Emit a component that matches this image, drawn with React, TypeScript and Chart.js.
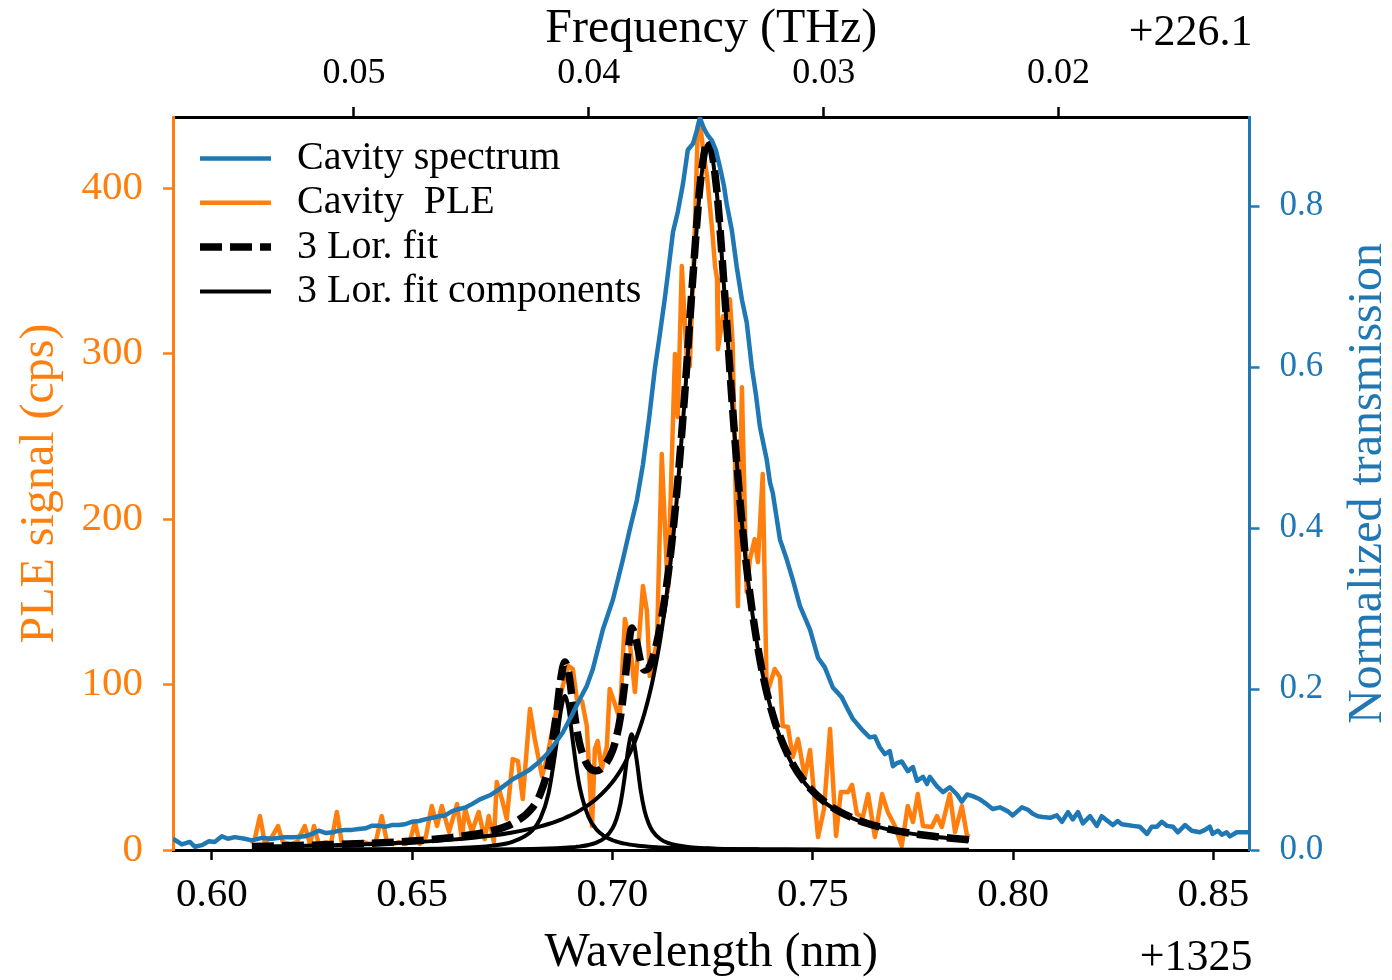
import React, { useEffect, useRef } from "react";
import { Chart, registerables } from "chart.js";

Chart.register(...registerables);

// ---------------- data ----------------
const spectrumWavelength = [
  0.5903, 0.5925, 0.5945, 0.5958, 0.5975, 0.5993, 0.6007, 0.6025, 0.604, 0.6057, 0.6082, 0.61, 0.6125, 0.615,
  0.6182, 0.6207, 0.6232, 0.625, 0.6267, 0.6285, 0.6302, 0.6317, 0.6334, 0.6349, 0.6367, 0.6384, 0.6399, 0.6417,
  0.6434, 0.6449, 0.6467, 0.6482, 0.6499, 0.6517, 0.6532, 0.6549, 0.6567, 0.6582, 0.6599, 0.6617, 0.6634, 0.6649,
  0.6669, 0.6694, 0.6719, 0.6751, 0.6774, 0.6794, 0.6816, 0.6836, 0.6856, 0.6876, 0.6899, 0.6919, 0.6936, 0.6951,
  0.6976, 0.7001, 0.7026, 0.7043, 0.7061, 0.7076, 0.7091, 0.7106, 0.7118, 0.7131, 0.7141, 0.7151, 0.7163, 0.7176,
  0.7188, 0.7201, 0.7211, 0.7218, 0.7228, 0.7238, 0.7248, 0.7258, 0.7268, 0.7278, 0.7285, 0.7298, 0.731, 0.7323,
  0.7335, 0.7348, 0.7358, 0.7368, 0.7385, 0.7393, 0.74, 0.7418, 0.7435, 0.745, 0.7468, 0.748, 0.7493, 0.7513,
  0.753, 0.755, 0.7572, 0.7585, 0.76, 0.7622, 0.7642, 0.7655, 0.7667, 0.768, 0.7692, 0.77, 0.771, 0.7722, 0.7737,
  0.775, 0.776, 0.7775, 0.7785, 0.7792, 0.781, 0.7825, 0.7842, 0.786, 0.7872, 0.7885, 0.7899, 0.7917, 0.7934,
  0.7949, 0.7967, 0.7987, 0.7999, 0.8022, 0.8037, 0.8049, 0.8062, 0.8074, 0.8092, 0.8109, 0.8122, 0.8137, 0.8149,
  0.8162, 0.8174, 0.8192, 0.8209, 0.8221, 0.8236, 0.8249, 0.8261, 0.8271, 0.8284, 0.8299, 0.8316, 0.8334, 0.8346,
  0.8359, 0.8371, 0.8384, 0.8399, 0.8411, 0.8429, 0.8446, 0.8466, 0.8479, 0.8491, 0.8498, 0.8511, 0.8521, 0.8533,
  0.8541, 0.8558, 0.8573, 0.859,
];
const spectrumTransmission = [
  0.014, 0.007, 0.01, 0.004, 0.006, 0.011, 0.01, 0.017, 0.014, 0.016, 0.014, 0.012, 0.015, 0.014,
  0.016, 0.016, 0.017, 0.02, 0.024, 0.021, 0.022, 0.024, 0.025, 0.025, 0.026, 0.027, 0.03, 0.03,
  0.029, 0.031, 0.031, 0.032, 0.035, 0.036, 0.038, 0.04, 0.042, 0.043, 0.048, 0.051, 0.053, 0.057,
  0.063, 0.068, 0.076, 0.088, 0.094, 0.1, 0.109, 0.119, 0.132, 0.146, 0.168, 0.188, 0.204, 0.225,
  0.274, 0.311, 0.361, 0.398, 0.435, 0.479, 0.535, 0.599, 0.64, 0.687, 0.727, 0.768, 0.793, 0.828,
  0.87, 0.878, 0.895, 0.91, 0.897, 0.888, 0.882, 0.87, 0.849, 0.826, 0.803, 0.77, 0.725, 0.684,
  0.656, 0.599, 0.566, 0.526, 0.485, 0.457, 0.444, 0.386, 0.361, 0.336, 0.303, 0.289, 0.274, 0.239,
  0.227, 0.202, 0.19, 0.177, 0.163, 0.15, 0.14, 0.141, 0.128, 0.119, 0.123, 0.104, 0.108, 0.11, 0.098,
  0.103, 0.086, 0.091, 0.082, 0.091, 0.079, 0.072, 0.078, 0.069, 0.06, 0.069, 0.067, 0.063, 0.057,
  0.051, 0.053, 0.048, 0.043, 0.053, 0.05, 0.045, 0.042, 0.041, 0.04, 0.043, 0.035, 0.047, 0.038,
  0.047, 0.033, 0.042, 0.03, 0.042, 0.036, 0.031, 0.036, 0.032, 0.031, 0.03, 0.029, 0.02, 0.029,
  0.029, 0.035, 0.03, 0.029, 0.022, 0.031, 0.024, 0.022, 0.025, 0.029, 0.02, 0.024, 0.019, 0.022,
  0.017, 0.022, 0.022, 0.022,
];

const pleWavelength = [
  0.6095, 0.6107, 0.612, 0.6132, 0.615, 0.6165, 0.6177, 0.6195, 0.6212, 0.6232, 0.6245, 0.6255, 0.6267, 0.6285,
  0.6297, 0.6312, 0.6324, 0.6339, 0.6354, 0.6367, 0.6379, 0.6394, 0.6409, 0.6424, 0.6437, 0.6452, 0.6467, 0.6482,
  0.6494, 0.6507, 0.6519, 0.6534, 0.6549, 0.6562, 0.6574, 0.6592, 0.6612, 0.6624, 0.6632, 0.6649, 0.6666, 0.6681,
  0.6691, 0.6704, 0.6711, 0.6724, 0.6736, 0.6751, 0.6764, 0.6776, 0.6794, 0.6806, 0.6824, 0.6836, 0.6849, 0.6861,
  0.6876, 0.6889, 0.6901, 0.6911, 0.6924, 0.6936, 0.6949, 0.6956, 0.6963, 0.6973, 0.6986, 0.6993, 0.7006, 0.7018,
  0.7031, 0.7043, 0.7056, 0.7076, 0.7086, 0.7093, 0.7111, 0.7123, 0.7138, 0.7156, 0.7163, 0.7173, 0.7186, 0.7193,
  0.7206, 0.7213, 0.7218, 0.7226, 0.7236, 0.7248, 0.7256, 0.7261, 0.7263, 0.7276, 0.7283, 0.7293, 0.73, 0.7313,
  0.7323, 0.7335, 0.7343, 0.7355, 0.7363, 0.7375, 0.7385, 0.7405, 0.7418, 0.7425, 0.7438, 0.745, 0.7463, 0.748,
  0.7493, 0.7513, 0.7528, 0.7543, 0.7558, 0.757, 0.7588, 0.7598, 0.761, 0.7625, 0.7638, 0.7655, 0.7673, 0.7687,
  0.7705, 0.7722, 0.7737, 0.775, 0.7762, 0.7775, 0.7797, 0.781, 0.7822, 0.7842, 0.7855, 0.7872, 0.7885, 0.7892,
];
const pleSignal = [
  4.8, 6.6, 20.5, 4.8, 7.9, 14.5, 4.8, 3.6, 4.8, 14.5, 3.6, 14.5, 3.6, 4.8,
  3.6, 23.0, 4.8, 3.6, 4.8, 3.6, 4.8, 3.6, 4.8, 20.5, 4.8, 3.6, 4.8, 3.6,
  4.8, 16.9, 3.6, 7.9, 26.6, 14.5, 26.6, 10.9, 27.8, 6.6, 24.8, 10.9, 23.0, 6.6,
  20.5, 4.8, 41.1, 30.8, 18.7, 55.0, 53.8, 30.8, 85.2, 67.1, 44.7, 55.0, 71.3, 85.2,
  99.1, 111.2, 109.4, 91.2, 90.0, 74.9, 14.5, 61.0, 65.9, 48.9, 62.8, 97.3, 88.2, 79.2,
  139.6, 125.7, 95.5, 159.5, 144.4, 105.1, 125.7, 239.3, 155.9, 299.7, 261.6, 352.9, 294.2, 292.4,
  378.2, 437.4, 441.0, 423.5, 407.2, 377.0, 352.9, 345.0, 302.7, 322.6, 320.8, 332.9, 305.7, 147.4,
  279.7, 155.9, 175.8, 187.9, 174.0, 227.2, 94.3, 109.4, 104.5, 74.9, 74.3, 56.2, 67.1, 44.1,
  60.4, 7.9, 24.8, 73.1, 8.5, 35.0, 35.0, 39.3, 21.8, 19.9, 33.8, 7.9, 33.8, 23.0,
  14.5, 2.4, 26.6, 16.9, 33.8, 14.5, 13.9, 20.5, 13.9, 33.8, 10.9, 26.6, 8.5, 7.9,
];

const fitWavelength = [
  0.61, 0.62, 0.63, 0.64, 0.65, 0.66, 0.67, 0.675, 0.68, 0.682, 0.684, 0.686, 0.687, 0.6881, 0.689, 0.69, 0.691,
  0.692, 0.694, 0.696, 0.698, 0.7, 0.701, 0.702, 0.703, 0.704, 0.7048, 0.706, 0.707, 0.708, 0.709, 0.71, 0.712,
  0.714, 0.716, 0.718, 0.72, 0.722, 0.7239, 0.726, 0.728, 0.73, 0.732, 0.734, 0.737, 0.74, 0.744, 0.748, 0.753,
  0.76, 0.768, 0.778, 0.789,
];
const fitTotal = [
  2.18, 2.63, 3.26, 4.13, 5.44, 7.57, 11.71, 15.95, 25.55, 34.1, 50.4, 82.12, 102.0, 113.65, 107.6, 90.72, 74.2,
  62.28, 50.37, 47.84, 51.0, 60.08, 68.24, 80.68, 99.46, 122.68, 134.13, 125.85, 114.03, 108.83, 110.0, 115.54, 136.32,
  168.93, 214.76, 274.65, 344.04, 405.1, 428.69, 399.53, 335.84, 266.09, 206.36, 160.35, 112.53, 81.8, 56.42, 40.94, 28.99,
  19.34, 13.18, 8.88, 6.18,
];
const fitComponent1 = [
  0.15, 0.19, 0.26, 0.39, 0.61, 1.12, 2.65, 4.93, 11.88, 19.09, 33.83, 63.74, 82.6, 93.0, 85.8, 67.6, 49.6,
  36.0, 20.12, 12.41, 8.3, 5.91, 5.08, 4.41, 3.86, 3.41, 3.1, 2.71, 2.44, 2.2, 2.0, 1.83, 1.54,
  1.31, 1.13, 0.99, 0.87, 0.77, 0.69, 0.62, 0.56, 0.51, 0.46, 0.42, 0.37, 0.33, 0.29, 0.25, 0.21,
  0.17, 0.14, 0.11, 0.09,
];
const fitComponent2 = [
  0.04, 0.05, 0.07, 0.09, 0.12, 0.18, 0.3, 0.42, 0.6, 0.71, 0.85, 1.03, 1.15, 1.3, 1.45, 1.65, 1.89,
  2.19, 3.04, 4.48, 7.19, 13.07, 18.77, 28.2, 43.4, 62.4, 70.0, 55.0, 36.6, 23.8, 16.15, 11.45, 6.48,
  4.12, 2.83, 2.06, 1.57, 1.23, 1.0, 0.81, 0.68, 0.58, 0.5, 0.43, 0.36, 0.3, 0.24, 0.2, 0.16,
  0.12, 0.09, 0.07, 0.05,
];
const fitComponent3 = [
  1.99, 2.39, 2.93, 3.66, 4.7, 6.27, 8.76, 10.6, 13.07, 14.3, 15.72, 17.35, 18.26, 19.35, 20.31, 21.47, 22.72,
  24.09, 27.21, 30.95, 35.51, 41.1, 44.39, 48.07, 52.2, 56.87, 61.03, 68.14, 74.99, 82.83, 91.85, 102.26, 128.3,
  163.5, 210.8, 271.6, 341.6, 403.1, 427.0, 398.1, 334.6, 265.0, 205.4, 159.5, 111.8, 81.17, 55.89, 40.49, 28.62,
  19.05, 12.95, 8.7, 6.04,
];

const wavelengthTicks = [0.6, 0.65, 0.7, 0.75, 0.8, 0.85];
const frequencyTicks = [0.02, 0.03, 0.04, 0.05];
const pleTicks = [0, 100, 200, 300, 400];
const transmissionTicks = [0, 0.2, 0.4, 0.6, 0.8];
const legendLabels = ["Cavity spectrum", "Cavity  PLE", "3 Lor. fit", "3 Lor. fit components"];
const transmissionTitle = "Normalized transmission";

const WAVELENGTH_MIN = 0.5903;
const WAVELENGTH_MAX = 0.859;
const WAVELENGTH_OFFSET = 1325;
const FREQUENCY_OFFSET = 226.1;
const PLE_MAX = 443;
const TRANSMISSION_MAX = 0.911;

// --------------- style ---------------
const FONT = "'Liberation Serif', 'DejaVu Serif', serif";
const BLUE = "#1f77b4";
const ORANGE = "#ff7f0e";
const W = 1392;
const H = 980;

const SPEED_OF_LIGHT = 299792.458; // nm*THz
const toFreqOffset = (lam: number) => SPEED_OF_LIGHT / (WAVELENGTH_OFFSET + lam) - FREQUENCY_OFFSET;

const pts = (xs: number[], ys: number[]) => xs.map((x, i) => ({ x, y: ys[i] }));

const overlayPlugin = {
  id: "overlay",
  afterDraw(chart: any) {
    const ctx = chart.ctx as CanvasRenderingContext2D;
    const area = chart.chartArea;
    ctx.save();
    // offset texts
    ctx.fillStyle = "#000";
    ctx.font = `44px ${FONT}`;
    ctx.textAlign = "right";
    ctx.textBaseline = "alphabetic";
    ctx.fillText("+" + FREQUENCY_OFFSET.toFixed(1), area.right + 3, 45);
    ctx.fillText("+" + WAVELENGTH_OFFSET, area.right + 3, 970);

    // right axis title (reads bottom to top, like matplotlib)
    ctx.save();
    ctx.translate(area.right + 131, (area.top + area.bottom) / 2);
    ctx.rotate(-Math.PI / 2);
    ctx.fillStyle = BLUE;
    ctx.font = `48px ${FONT}`;
    ctx.textAlign = "center";
    ctx.textBaseline = "alphabetic";
    ctx.fillText(transmissionTitle, 0, 0);
    ctx.restore();

    // legend
    const ds = chart.data.datasets;
    const entries = [ds[0], ds[1], ds[2], ds[3]];
    const x0 = area.left + 27;
    const x1 = area.left + 98;
    const tx = area.left + 124;
    entries.forEach((d: any, i: number) => {
      const y = area.top + 41.5 + i * 44.3;
      ctx.beginPath();
      ctx.strokeStyle = d.borderColor;
      ctx.lineWidth = d.borderWidth;
      ctx.setLineDash(d.borderDash || []);
      ctx.lineCap = "butt";
      ctx.moveTo(x0, y);
      ctx.lineTo(x1, y);
      ctx.stroke();
      ctx.setLineDash([]);
      ctx.fillStyle = "#000";
      ctx.font = `40px ${FONT}`;
      ctx.textAlign = "left";
      ctx.textBaseline = "alphabetic";
      ctx.fillText(legendLabels[i], tx, y + 10.5);
    });
    ctx.restore();
  },
};

function axisBase(color: string, borderColor: string, size: number) {
  return {
    grid: {
      display: true,
      drawOnChartArea: false,
      drawTicks: true,
      tickLength: 10,
      tickWidth: 2.5,
      tickColor: borderColor,
    },
    border: { display: true, color: borderColor, width: 3 },
    ticks: {
      color,
      font: { family: FONT, size, lineHeight: 1 },
      autoSkip: false,
      maxRotation: 0,
      minRotation: 0,
    },
  };
}

export default function App() {
  const canvasRef = useRef<HTMLCanvasElement | null>(null);

  useEffect(() => {
    document.body.style.margin = "0";
    const canvas = canvasRef.current;
    if (!canvas) return;

    const chart = new Chart(canvas, {
      type: "line",
      data: {
        datasets: [
          {
            label: legendLabels[0],
            data: pts(spectrumWavelength, spectrumTransmission),
            yAxisID: "y2",
            borderColor: BLUE,
            borderWidth: 4.5,
            pointRadius: 0,
            tension: 0,
            borderJoinStyle: "round",
            order: 0,
          },
          {
            label: legendLabels[1],
            data: pts(pleWavelength, pleSignal),
            yAxisID: "y",
            borderColor: ORANGE,
            borderWidth: 4.5,
            pointRadius: 0,
            tension: 0,
            borderJoinStyle: "round",
            order: 3,
          },
          {
            label: legendLabels[2],
            data: pts(fitWavelength, fitTotal),
            yAxisID: "y",
            borderColor: "#000",
            borderWidth: 7.5,
            borderDash: [22, 8],
            pointRadius: 0,
            cubicInterpolationMode: "monotone",
            order: 1,
          },
          {
            label: legendLabels[3],
            data: pts(fitWavelength, fitComponent1),
            yAxisID: "y",
            borderColor: "#000",
            borderWidth: 4,
            pointRadius: 0,
            cubicInterpolationMode: "monotone",
            order: 2,
          },
          {
            label: legendLabels[3],
            data: pts(fitWavelength, fitComponent2),
            yAxisID: "y",
            borderColor: "#000",
            borderWidth: 4,
            pointRadius: 0,
            cubicInterpolationMode: "monotone",
            order: 2,
          },
          {
            label: legendLabels[3],
            data: pts(fitWavelength, fitComponent3),
            yAxisID: "y",
            borderColor: "#000",
            borderWidth: 4,
            pointRadius: 0,
            cubicInterpolationMode: "monotone",
            order: 2,
          },
        ],
      },
      options: {
        responsive: false,
        animation: false,
        devicePixelRatio: 1,
        layout: { padding: 0 },
        plugins: {
          legend: { display: false },
          tooltip: { enabled: false },
        },
        scales: {
          x: {
            type: "linear",
            position: "bottom",
            min: WAVELENGTH_MIN,
            max: WAVELENGTH_MAX,
            afterBuildTicks: (s: any) => {
              s.ticks = wavelengthTicks.map((v) => ({ value: v }));
            },
            afterFit: (s: any) => {
              s.height = 130;
            },
            ...axisBase("#000", "#000", 41),
            ticks: {
              ...axisBase("#000", "#000", 41).ticks,
              padding: 15,
              callback: (v: any) => Number(v).toFixed(2),
            },
            title: {
              display: true,
              text: "Wavelength (nm)",
              color: "#000",
              font: { family: FONT, size: 48, lineHeight: 1 },
              padding: { top: 0, bottom: 3 },
            },
          },
          xTop: {
            type: "linear",
            position: "top",
            reverse: true,
            min: toFreqOffset(WAVELENGTH_MAX),
            max: toFreqOffset(WAVELENGTH_MIN),
            afterBuildTicks: (s: any) => {
              s.ticks = frequencyTicks.map((v) => ({ value: v }));
            },
            afterFit: (s: any) => {
              s.height = 117;
            },
            ...axisBase("#000", "#000", 36),
            ticks: {
              ...axisBase("#000", "#000", 36).ticks,
              padding: 15,
              callback: (v: any) => Number(v).toFixed(2),
            },
            title: {
              display: true,
              text: "Frequency (THz)",
              color: "#000",
              font: { family: FONT, size: 48, lineHeight: 1 },
              padding: { top: 5, bottom: 0 },
            },
          },
          y: {
            type: "linear",
            position: "left",
            min: 0,
            max: PLE_MAX,
            afterBuildTicks: (s: any) => {
              s.ticks = pleTicks.map((v) => ({ value: v }));
            },
            afterFit: (s: any) => {
              s.width = 173;
            },
            ...axisBase(ORANGE, ORANGE, 41),
            ticks: {
              ...axisBase(ORANGE, ORANGE, 41).ticks,
              padding: 20,
              callback: (v: any) => String(Math.round(Number(v))),
            },
            title: {
              display: true,
              text: "PLE signal (cps)",
              color: ORANGE,
              font: { family: FONT, size: 48, lineHeight: 1 },
              padding: { top: 16, bottom: 0 },
            },
          },
          y2: {
            type: "linear",
            position: "right",
            min: 0,
            max: TRANSMISSION_MAX,
            afterBuildTicks: (s: any) => {
              s.ticks = transmissionTicks.map((v) => ({ value: v }));
            },
            afterFit: (s: any) => {
              s.width = 142.5;
            },
            ...axisBase(BLUE, BLUE, 35),
            ticks: {
              ...axisBase(BLUE, BLUE, 35).ticks,
              padding: 20,
              callback: (v: any) => Number(v).toFixed(1),
            },
            title: { display: false },
          },
        },
      } as any,
      plugins: [overlayPlugin],
    } as any);

    return () => {
      chart.destroy();
    };
  }, []);

  return (
    <div style={{ position: "absolute", left: 0, top: 0, width: W, height: H, background: "#fff" }}>
      <canvas ref={canvasRef} width={W} height={H} style={{ display: "block", width: W, height: H }} />
    </div>
  );
}
